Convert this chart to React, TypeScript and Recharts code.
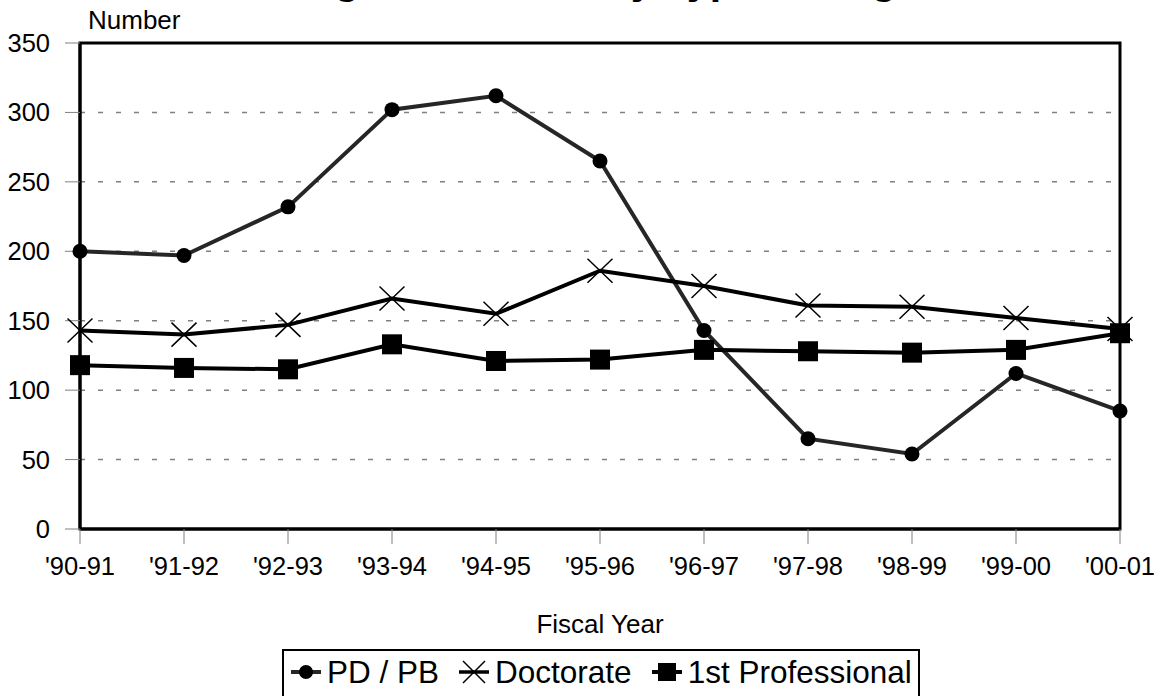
import React from 'react';
import {
  LineChart,
  Line,
  XAxis,
  YAxis,
  CartesianGrid,
  Legend,
  ReferenceArea,
  Label,
} from 'recharts';

const years = ["'90-91", "'91-92", "'92-93", "'93-94", "'94-95", "'95-96", "'96-97", "'97-98", "'98-99", "'99-00", "'00-01"];
const pdPb = [200, 197, 232, 302, 312, 265, 143, 65, 54, 112, 85];
const doctorate = [143, 140, 147, 166, 155, 186, 175, 161, 160, 152, 144];
const firstProfessional = [118, 116, 115, 133, 121, 122, 129, 128, 127, 129, 141];
const yTicks = [0, 50, 100, 150, 200, 250, 300, 350];
const seriesOrder = ['pdPb', 'doctorate', 'firstProfessional'];

const data = years.map((year, i) => ({
  year,
  pdPb: pdPb[i],
  doctorate: doctorate[i],
  firstProfessional: firstProfessional[i],
}));

const FONT = '"Liberation Sans", Arial, sans-serif';

const CircleDot = (props: any) => {
  const { cx, cy } = props;
  if (cx == null || cy == null) return null;
  return <circle cx={cx} cy={cy} r={7.5} fill="#000" />;
};

const CrossDot = (props: any) => {
  const { cx, cy } = props;
  if (cx == null || cy == null) return null;
  return (
    <path
      d={`M${cx - 12.5},${cy - 12} L${cx + 12.5},${cy + 12} M${cx - 12.5},${cy + 12} L${cx + 12.5},${cy - 12}`}
      stroke="#000"
      strokeWidth={1.5}
      fill="none"
    />
  );
};

const SquareDot = (props: any) => {
  const { cx, cy } = props;
  if (cx == null || cy == null) return null;
  return <rect x={cx - 10} y={cy - 10} width={20} height={20} fill="#000" />;
};

const legendIcon = (key: string) => {
  if (key === 'pdPb') {
    return (
      <>
        <line x1={0} y1={18} x2={30} y2={18} stroke="#262626" strokeWidth={4} />
        <circle cx={15} cy={18} r={7} fill="#000" />
      </>
    );
  }
  if (key === 'doctorate') {
    return (
      <>
        <line x1={0} y1={18} x2={30} y2={18} stroke="#000" strokeWidth={3.5} />
        <path d="M4,7 L26,29 M4,29 L26,7" stroke="#000" strokeWidth={1.5} fill="none" />
      </>
    );
  }
  return (
    <>
      <line x1={0} y1={18} x2={30} y2={18} stroke="#000" strokeWidth={4} />
      <rect x={6} y={9} width={18} height={18} fill="#000" />
    </>
  );
};

const LegendBox = (props: any) => {
  const { payload = [] } = props;
  const items = [...payload].sort(
    (a: any, b: any) => seriesOrder.indexOf(a.dataKey) - seriesOrder.indexOf(b.dataKey)
  );
  return (
    <div
      style={{
        border: '2px solid #000',
        boxSizing: 'border-box',
        height: 60,
        display: 'flex',
        alignItems: 'flex-start',
        padding: '3px 7px',
        background: '#fff',
        fontFamily: FONT,
      }}
    >
      {items.map((entry: any) => (
        <div key={entry.value} style={{ display: 'flex', alignItems: 'center', height: 36, marginRight: 20 }}>
          <svg width={30} height={36}>{legendIcon(entry.dataKey)}</svg>
          <span style={{ marginLeft: 6, fontSize: 31.5, lineHeight: '36px', color: '#000', whiteSpace: 'nowrap' }}>
            {entry.value}
          </span>
        </div>
      ))}
    </div>
  );
};

export default function App() {
  return (
    <div style={{ position: 'absolute', left: 0, top: 0, background: '#fff' }}>
      <LineChart
        width={1163}
        height={696}
        data={data}
        margin={{ top: 43, right: 43, left: 0, bottom: 0 }}
        style={{ fontFamily: FONT }}
      >
        <text x={620} y={-6} textAnchor="middle" fontSize={41} fontWeight="bold" fill="#000" fontFamily={FONT}>
          Degrees Earned by Type of Degree
        </text>
        <text x={88} y={29} fontSize={26} fill="#000" fontFamily={FONT}>
          Number
        </text>
        <CartesianGrid vertical={false} stroke="#808080" strokeWidth={1.5} strokeDasharray="5 13" />
        <XAxis
          dataKey="year"
          interval={0}
          height={167}
          tickSize={15}
          tickMargin={13}
          tick={{ fill: '#000', fontSize: 25.5 }}
          tickLine={{ stroke: '#808080', strokeWidth: 1 }}
          axisLine={{ stroke: '#000', strokeWidth: 3 }}
        >
          <Label value="Fiscal Year" position="insideTop" offset={86} fill="#000" fontSize={26} />
        </XAxis>
        <YAxis
          domain={[0, 350]}
          ticks={yTicks}
          width={80}
          tickSize={15}
          tickMargin={15}
          tick={{ fill: '#000', fontSize: 25.5 }}
          tickLine={{ stroke: '#808080', strokeWidth: 1 }}
          axisLine={{ stroke: '#000', strokeWidth: 3 }}
        />
        <ReferenceArea
          x1={years[0]}
          x2={years[years.length - 1]}
          y1={0}
          y2={350}
          fill="none"
          fillOpacity={0}
          stroke="#000"
          strokeWidth={3}
          ifOverflow="visible"
        />
        <Legend
          layout="horizontal"
          verticalAlign="middle"
          align="center"
          content={<LegendBox />}
          wrapperStyle={{ top: 649, left: 282, width: 638, height: 60 }}
        />
        <Line
          type="linear"
          dataKey="pdPb"
          name="PD / PB"
          stroke="#262626"
          strokeWidth={4}
          dot={<CircleDot />}
          activeDot={false}
          isAnimationActive={false}
        />
        <Line
          type="linear"
          dataKey="doctorate"
          name="Doctorate"
          stroke="#000"
          strokeWidth={4}
          dot={<CrossDot />}
          activeDot={false}
          isAnimationActive={false}
        />
        <Line
          type="linear"
          dataKey="firstProfessional"
          name="1st Professional"
          stroke="#000"
          strokeWidth={4}
          dot={<SquareDot />}
          activeDot={false}
          isAnimationActive={false}
        />
      </LineChart>
    </div>
  );
}
